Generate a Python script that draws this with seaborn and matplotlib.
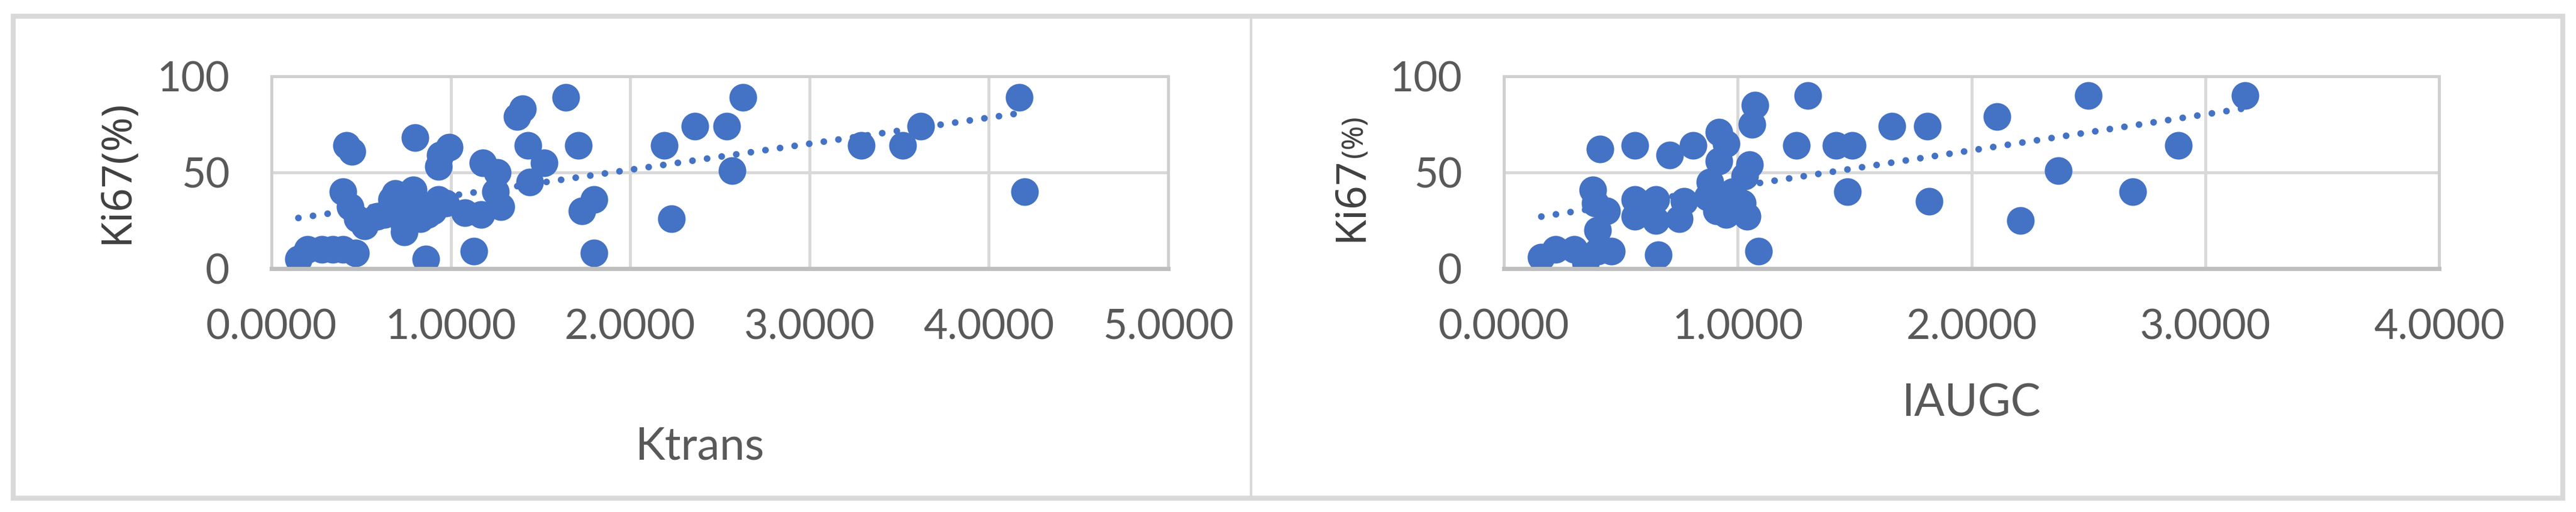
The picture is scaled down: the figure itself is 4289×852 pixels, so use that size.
import numpy as np
import matplotlib
matplotlib.use('Agg')
import matplotlib.pyplot as plt
import seaborn as sns
from matplotlib.patches import Rectangle
from matplotlib.lines import Line2D

# Ktrans vs Ki67 (left panel)
ktrans = [0.15, 0.20, 0.28, 0.34, 0.40, 0.47,
          0.42, 0.45,
          0.40, 0.44, 0.48, 0.52,
          0.59, 0.63, 0.67, 0.69, 0.70, 0.74, 0.74, 0.75, 0.79, 0.80, 0.83, 0.87, 0.90, 0.93, 0.97,
          0.86, 0.80, 0.99, 0.94, 0.93,
          1.13, 1.08, 1.17, 1.28, 1.25, 1.18, 1.26,
          1.37, 1.40, 1.43, 1.52, 1.44,
          1.64, 1.71, 1.80, 1.73, 1.80,
          2.19, 2.23, 2.36, 2.54, 2.63, 2.57,
          3.29, 3.52, 3.62, 4.17, 4.20]
ki67_k = [5, 10, 10, 10, 10, 8,
          64, 61,
          40, 32, 26, 22,
          27, 28, 36, 39, 30, 22, 19, 30, 41, 35, 26, 28, 30, 36, 34,
          5, 68, 63, 59, 53,
          9, 29, 28, 32, 40, 55, 50,
          79, 83, 64, 55, 45,
          89, 64, 36, 30, 8,
          64, 26, 74, 74, 89, 51,
          64, 64, 74, 89, 40]

# IAUGC vs Ki67 (right panel)
iaugc = [0.16, 0.22, 0.30, 0.35, 0.40, 0.46,
         0.38, 0.41, 0.39, 0.44, 0.40,
         0.56,
         0.56, 0.56, 0.65, 0.65, 0.77, 0.75,
         0.66, 0.71, 0.81,
         0.92, 0.95, 0.92, 0.88, 0.87, 0.91, 0.95, 1.04, 1.02, 0.98,
         1.05, 1.03, 1.075, 1.06, 1.09,
         1.30, 1.25, 1.42, 1.49, 1.47,
         1.66, 1.81, 1.82,
         2.11, 2.21, 2.37, 2.50, 2.69, 2.885, 3.17]
ki67_i = [6, 10, 10, 3, 9, 9,
          41, 62, 34, 30, 20,
          64,
          36, 27, 36, 25, 35, 26,
          7, 59, 64,
          71, 65, 56, 45, 37, 30, 28, 27, 34, 40,
          54, 48, 85, 75, 9,
          90, 64, 64, 64, 40,
          74, 74, 35,
          79, 25, 51, 90, 40, 64, 90]

ktrans_ticks = [0, 1, 2, 3, 4, 5]
iaugc_ticks = [0, 1, 2, 3, 4]
ki67_ticks = [0, 50, 100]

W, H = 4289, 852
blue = '#4472C4'
grid_c = '#d9d9d9'
tick_c = '#595959'
tick_font = ['Lato', 'DejaVu Sans']

sns.set_theme(style='white')
plt.rcParams['font.family'] = tick_font

fig = plt.figure(figsize=(W / 100, H / 100), dpi=100)


def fx(px):
    return px / W


def fy(py):
    return 1 - py / H


def panel(rect, x, y, xticks):
    ax = fig.add_axes(rect)
    sns.regplot(x=x, y=y, ax=ax, ci=None, truncate=True,
                scatter_kws=dict(s=1100, color=blue, alpha=1, linewidths=0),
                line_kws=dict(color=blue, lw=8, linestyle=(0, (0.01, 2.2)),
                              dash_capstyle='round'))
    ax.set_xlim(xticks[0], xticks[-1])
    ax.set_ylim(0, 100)
    ax.set_xticks(xticks)
    ax.set_xticklabels([f'{t:.4f}' for t in xticks])
    ax.set_yticks(ki67_ticks)
    ax.grid(True, color=grid_c, lw=3.6)
    ax.set_axisbelow(True)
    for s in ax.spines.values():
        s.set_color('#cfcfcf')
        s.set_linewidth(3.6)
    ax.spines['bottom'].set_color('#bfbfbf')
    ax.spines['bottom'].set_linewidth(5)
    ax.tick_params(axis='x', length=0, pad=48, labelsize=50, labelcolor=tick_c)
    ax.tick_params(axis='y', length=0, pad=50, labelsize=50, labelcolor=tick_c)
    ax.set_xlabel('')
    ax.set_ylabel('')
    return ax


top, bot = 126.7, 446.7
ax1 = panel([fx(452), fy(bot), fx(1945 - 452), (bot - top) / H], ktrans, ki67_k, ktrans_ticks)
ax2 = panel([fx(2504), fy(bot), fx(4061 - 2504), (bot - top) / H], iaugc, ki67_i, iaugc_ticks)

# axis titles
lab_font = ['Noto Sans', 'DejaVu Sans']
fig.text(fx(195), fy(286), 'Ki67(%)', rotation=90, ha='center', va='center',
         fontsize=50, color='#404040', family=lab_font)
fig.text(fx(2268), fy(262), 'Ki67', rotation=90, rotation_mode='anchor',
         ha='right', va='baseline', fontsize=50, color='#404040', family=lab_font)
fig.text(fx(2268), fy(262), '(%)', rotation=90, rotation_mode='anchor',
         ha='left', va='baseline', fontsize=35, color='#404040', family=lab_font)
fig.text(fx(1165), fy(743), 'Ktrans', ha='center', va='center', fontsize=54,
         color=tick_c)
fig.text(fx(3282), fy(671), 'IAUGC', ha='center', va='center', fontsize=54,
         color=tick_c)

# outer frame and divider
fig.patches.append(Rectangle((fx(22), fy(829)), fx(4267 - 22), (829 - 27) / H,
                             transform=fig.transFigure, fill=False,
                             edgecolor=grid_c, lw=6))
fig.lines.append(Line2D([fx(2083), fx(2083)], [fy(829), fy(27)],
                        transform=fig.transFigure, color=grid_c, lw=3))

fig.savefig('out.png', dpi=100, facecolor='white')
